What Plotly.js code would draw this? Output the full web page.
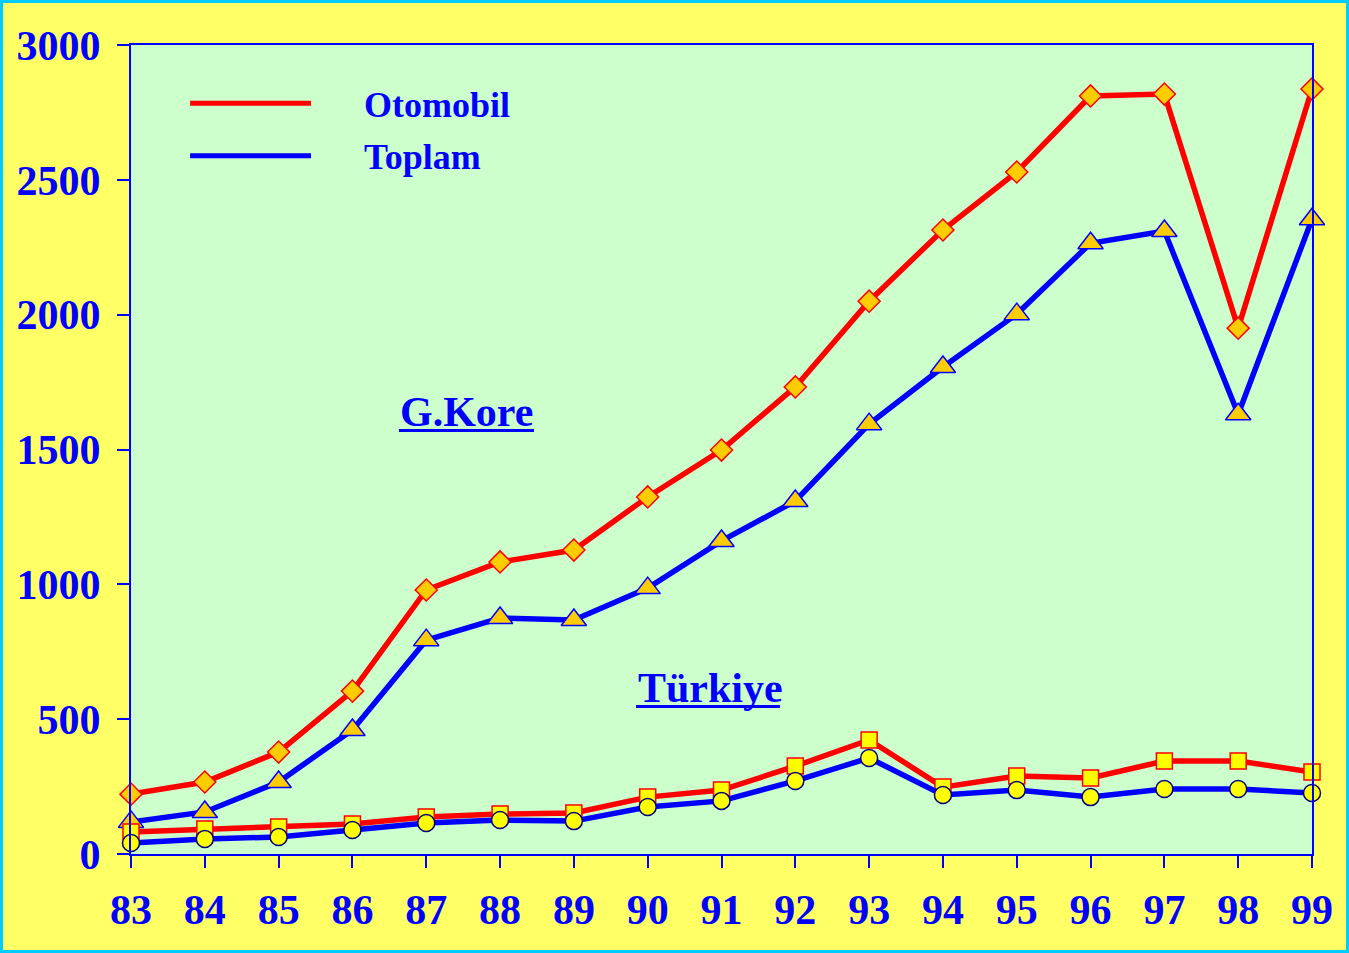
<!DOCTYPE html>
<html>
<head>
<meta charset="utf-8">
<script src="https://cdn.plot.ly/plotly-3.0.1.min.js"></script>
<style>
html,body{margin:0;padding:0;background:#FFFF66;}
#wrap{position:relative;width:1349px;height:953px;}
#chart{width:1349px;height:953px;}
#frame{position:absolute;left:0;top:0;width:1349px;height:953px;box-sizing:border-box;border:3px solid #00CCFF;pointer-events:none;}
</style>
</head>
<body>
<div id="wrap"><div id="chart"></div><div id="frame"></div></div>
<script>
const years = [83,84,85,86,87,88,89,90,91,92,93,94,95,96,97,98,99];
const yearLabels = ['83','84','85','86','87','88','89','90','91','92','93','94','95','96','97','98','99'];
const koreOtomobil = [222,267,378,604,979,1083,1127,1324,1498,1732,2050,2314,2529,2811,2818,1950,2837];
const koreToplam   = [119,156,267,460,793,875,868,986,1161,1309,1594,1806,2002,2265,2310,1631,2354];
const turkOtomobil = [82,93,100,111,137,148,152,211,237,326,423,248,289,282,345,345,304];
const turkToplam   = [41,56,63,89,115,126,122,174,197,271,356,219,237,211,241,241,226];
const yTicks = [0,500,1000,1500,2000,2500,3000];
const legendNames = ['Otomobil','Toplam'];
const regionNames = ['G.Kore','Türkiye'];

const FONT = 'Liberation Serif, Times New Roman, serif';
const BLUE = '#0000FF';
const RED = '#FF0000';

function tr(y, lineColor, symbol, fill, outline, size){
  return {x: years, y: y, type:'scatter', mode:'lines+markers', showlegend:false, cliponaxis:false,
    line:{color:lineColor, width:5.5},
    marker:{symbol:symbol, size:size, color:fill, line:{color:outline, width:1.5}}};
}
const data = [
  tr(koreOtomobil, RED, 'diamond', '#FFCC00', RED, 17),
  tr(koreToplam, BLUE, 'triangle-up', '#FFCC00', BLUE, 22),
  tr(turkOtomobil, RED, 'square', '#FFFF00', RED, 16),
  tr(turkToplam, BLUE, 'circle', '#FFFF00', '#000080', 17)
];

const layout = {
  width:1349, height:953,
  paper_bgcolor:'#FFFF66', plot_bgcolor:'#CCFFCC',
  margin:{l:131, r:37, t:45, b:99},
  showlegend:false,
  xaxis:{range:[83,99], tickvals:years, ticktext:yearLabels, showgrid:false, zeroline:false,
    showline:true, linecolor:BLUE, linewidth:2, mirror:true,
    ticks:'outside', ticklen:12, tickwidth:2, tickcolor:BLUE, ticklabelstandoff:6,
    tickfont:{family:FONT, size:42, color:BLUE, weight:'bold'}},
  yaxis:{range:[0,3000], tickvals:yTicks, showgrid:false, zeroline:false,
    showline:true, linecolor:BLUE, linewidth:2, mirror:true,
    ticks:'outside', ticklen:12, tickwidth:2, tickcolor:BLUE, ticklabelstandoff:8,
    tickfont:{family:FONT, size:42, color:BLUE, weight:'bold'}},
  shapes:[
    {type:'line', xref:'paper', yref:'paper', x0:0.050, x1:0.1524, y0:0.928, y1:0.928, line:{color:RED, width:5}},
    {type:'line', xref:'paper', yref:'paper', x0:0.050, x1:0.1524, y0:0.863, y1:0.863, line:{color:BLUE, width:5}},
    {type:'line', xref:'paper', yref:'paper', x0:0.2269, x1:0.3412, y0:0.5235, y1:0.5235, line:{color:BLUE, width:3}},
    {type:'line', xref:'paper', yref:'paper', x0:0.4276, x1:0.5495, y0:0.1823, y1:0.1823, line:{color:BLUE, width:3}}
  ],
  annotations:[
    {xref:'paper', yref:'paper', x:0.196, y:0.926, xanchor:'left', yanchor:'middle', showarrow:false,
      text:legendNames[0], font:{family:FONT, size:36, color:BLUE, weight:'bold'}},
    {xref:'paper', yref:'paper', x:0.196, y:0.8616, xanchor:'left', yanchor:'middle', showarrow:false,
      text:legendNames[1], font:{family:FONT, size:36, color:BLUE, weight:'bold'}},
    {xref:'paper', yref:'paper', x:0.226, y:0.546, xanchor:'left', yanchor:'middle', showarrow:false,
      text:regionNames[0], font:{family:FONT, size:42, color:BLUE, weight:'bold'}},
    {xref:'paper', yref:'paper', x:0.4275, y:0.205, xanchor:'left', yanchor:'middle', showarrow:false,
      text:regionNames[1], font:{family:FONT, size:42, color:BLUE, weight:'bold'}}
  ]
};
Plotly.newPlot('chart', data, layout, {displayModeBar:false, staticPlot:true});
</script>
</body>
</html>
